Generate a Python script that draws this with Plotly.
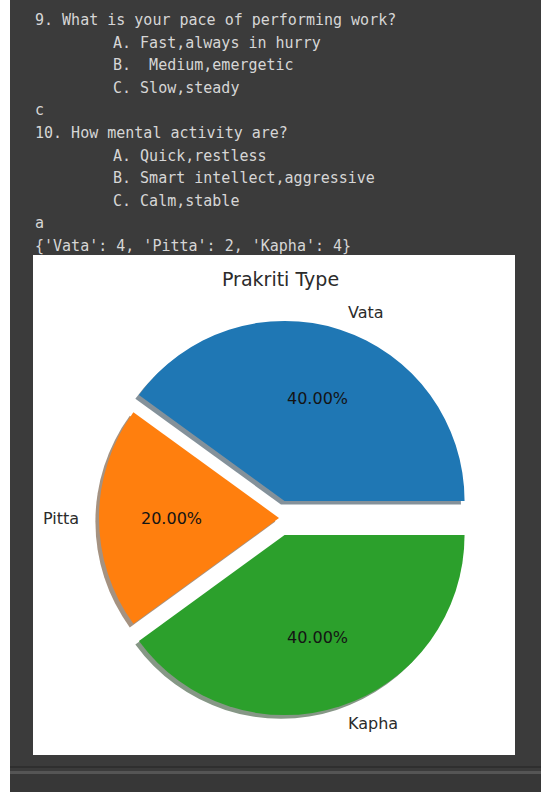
import math
import plotly.graph_objects as go

# ---- data ----
labels = ["Vata", "Pitta", "Kapha"]
values = [4, 2, 4]
explode = [0.1, 0.0, 0.1]
colors = ["#1f77b4", "#ff7f0e", "#2ca02c"]
title_text = "Prakriti Type"

console_lines = [
    ("9. What is your pace of performing work?", 0),
    ("A. Fast,always in hurry", 1),
    ("B.\u00a0\u00a0Medium,emergetic", 1),
    ("C. Slow,steady", 1),
    ("c", 0),
    ("10. How mental activity are?", 0),
    ("A. Quick,restless", 1),
    ("B. Smart intellect,aggressive", 1),
    ("C. Calm,stable", 1),
    ("a", 0),
    ("{'Vata': 4, 'Pitta': 2, 'Kapha': 4}", 0),
]

# ---- layout constants (pixels) ----
W, H = 541, 792
CX, CY, R = 279.0, 518.0, 180.0
SHADOW = 0.02 * R


def px(x):
    return x / W


def py(y):
    return 1 - y / H


def shadow_rgb(hexc):
    r, g, b = int(hexc[1:3], 16), int(hexc[3:5], 16), int(hexc[5:7], 16)
    return "rgb(%d,%d,%d)" % tuple(int(0.5 * 0.3 * c + 0.5 * 255) for c in (r, g, b))


max_pull = max(explode)
half = R * (1 + max_pull)
total = sum(values)
# matplotlib: first wedge starts at 3 o'clock and runs counterclockwise.
# plotly (counterclockwise): first wedge ends at `rotation` (clockwise from 12 o'clock)
rotation = 90 - 360.0 * values[0] / total


def domain(cx, cy):
    return dict(x=[px(cx - half), px(cx + half)], y=[py(cy + half), py(cy - half)])


fig = go.Figure()

common = dict(labels=labels, values=values, pull=explode, sort=False,
              direction="counterclockwise", rotation=rotation, textinfo="none",
              hoverinfo="skip", showlegend=False)

# shadow
fig.add_trace(go.Pie(**common, domain=domain(CX - SHADOW, CY + SHADOW),
                     marker=dict(colors=[shadow_rgb(c) for c in colors], line=dict(width=0))))
# main pie
fig.add_trace(go.Pie(**common, domain=domain(CX, CY),
                     marker=dict(colors=colors, line=dict(width=0))))

annotations = []
cum = 0
for lab, v, ex in zip(labels, values, explode):
    theta = math.radians(360.0 * (cum + v / 2) / total)
    cum += v
    ccx = CX + ex * R * math.cos(theta)
    ccy = CY - ex * R * math.sin(theta)
    lx = ccx + 1.1 * R * math.cos(theta)
    ly = ccy - 1.1 * R * math.sin(theta)
    annotations.append(dict(x=px(lx), y=py(ly), xref="paper", yref="paper", text=lab,
                            showarrow=False, xanchor="left" if math.cos(theta) > 0 else "right",
                            yanchor="middle", font=dict(family="DejaVu Sans", size=16, color="#2b2b2b")))
    tx = ccx + 0.6 * R * math.cos(theta)
    ty = ccy - 0.6 * R * math.sin(theta)
    annotations.append(dict(x=px(tx), y=py(ty), xref="paper", yref="paper",
                            text="%.2f%%" % (100.0 * v / total), showarrow=False,
                            xanchor="center", yanchor="middle",
                            font=dict(family="DejaVu Sans", size=16, color="#141414")))

annotations.append(dict(x=px(280), y=py(279), xref="paper", yref="paper", text=title_text,
                        showarrow=False, xanchor="center", yanchor="middle",
                        font=dict(family="DejaVu Sans", size=19, color="#2b2b2b")))

y0, dy = 20.0, 22.6
for i, (line, indent) in enumerate(console_lines):
    annotations.append(dict(x=px(111 if indent else 33), y=py(y0 + i * dy), xref="paper", yref="paper",
                            text=line, showarrow=False, xanchor="left", yanchor="middle",
                            font=dict(family="DejaVu Sans Mono", size=15, color="#d6d6d6")))

shapes = [
    dict(type="rect", xref="paper", yref="paper", x0=px(10), x1=1, y0=0, y1=py(774),
         fillcolor="#373737", line=dict(width=0), layer="below"),
    dict(type="rect", xref="paper", yref="paper", x0=px(10), x1=1, y0=py(768), y1=py(766),
         fillcolor="#2f2f2f", line=dict(width=0), layer="below"),
    dict(type="rect", xref="paper", yref="paper", x0=px(10), x1=1, y0=py(774), y1=py(771),
         fillcolor="#555555", line=dict(width=0), layer="below"),
    dict(type="rect", xref="paper", yref="paper", x0=px(33), x1=px(515), y0=py(755), y1=py(255),
         fillcolor="#ffffff", line=dict(width=0), layer="below"),
    dict(type="rect", xref="paper", yref="paper", x0=-0.01, x1=px(10), y0=-0.01, y1=1.01,
         fillcolor="#ffffff", line=dict(width=0), layer="below"),
]

fig.update_layout(width=W, height=H, margin=dict(l=0, r=0, t=0, b=0),
                  paper_bgcolor="#3b3b3b", plot_bgcolor="#3b3b3b",
                  annotations=annotations, shapes=shapes, showlegend=False)

fig.write_html("out.html", config={"displayModeBar": False},
               post_script="document.body.style.margin='0px';document.body.style.background='#3b3b3b';")
